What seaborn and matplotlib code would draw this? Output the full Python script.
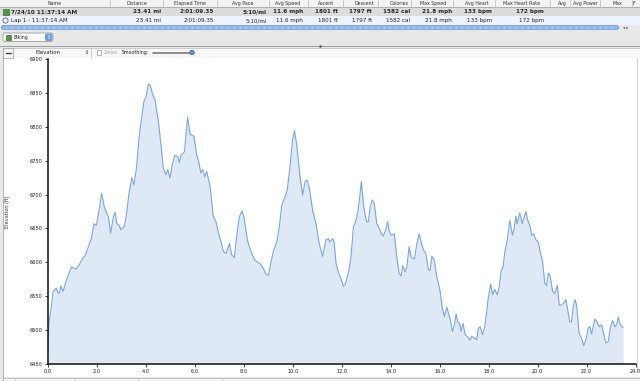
import numpy as np
import pandas as pd
import seaborn as sns
import matplotlib.pyplot as plt
from matplotlib.patches import Rectangle, FancyBboxPatch, Circle

# ====================
# Data
# ====================
distance_mi = [
    0.00, 0.05, 0.15, 0.22, 0.35, 0.42, 0.48, 0.53, 0.63, 0.76, 0.97, 1.17, 1.31, 1.44, 1.52,
    1.61, 1.78, 1.89, 1.99, 2.14, 2.20, 2.31, 2.41, 2.48, 2.57, 2.68, 2.75, 2.82, 2.91, 2.99,
    3.13, 3.22, 3.32, 3.43, 3.52, 3.63, 3.73, 3.84, 3.93, 4.01, 4.11, 4.19, 4.27, 4.38, 4.52,
    4.63, 4.72, 4.82, 4.90, 4.99, 5.09, 5.20, 5.31, 5.37, 5.44, 5.58, 5.71, 5.81, 5.97, 6.08,
    6.15, 6.25, 6.33, 6.41, 6.49, 6.63, 6.76, 6.87, 6.97, 7.06, 7.17, 7.28, 7.42, 7.51, 7.62,
    7.71, 7.82, 7.93, 8.01, 8.15, 8.23, 8.33, 8.46, 8.67, 8.80, 8.91, 9.01, 9.10, 9.21, 9.35,
    9.46, 9.55, 9.69, 9.78, 9.89, 9.99, 10.07, 10.16, 10.30, 10.41, 10.50, 10.60, 10.68, 10.82,
    10.95, 11.09, 11.22, 11.35, 11.46, 11.52, 11.63, 11.69, 11.77, 11.87, 11.97, 12.07, 12.14,
    12.21, 12.30, 12.38, 12.48, 12.57, 12.66, 12.72, 12.80, 12.87, 12.95, 13.02, 13.09, 13.16,
    13.25, 13.33, 13.43, 13.50, 13.61, 13.70, 13.80, 13.87, 13.93, 14.02, 14.15, 14.25, 14.34,
    14.42, 14.49, 14.59, 14.66, 14.75, 14.83, 14.97, 15.06, 15.16, 15.24, 15.34, 15.43, 15.54,
    15.61, 15.68, 15.78, 15.88, 16.01, 16.11, 16.19, 16.29, 16.36, 16.42, 16.52, 16.60, 16.67,
    16.74, 16.82, 16.87, 16.95, 17.04, 17.15, 17.24, 17.31, 17.42, 17.51, 17.58, 17.65, 17.75,
    17.84, 17.91, 17.98, 18.08, 18.16, 18.25, 18.35, 18.43, 18.50, 18.59, 18.66, 18.76, 18.86,
    18.97, 19.03, 19.11, 19.16, 19.27, 19.37, 19.45, 19.52, 19.59, 19.68, 19.75, 19.84, 19.93,
    20.02, 20.12, 20.20, 20.29, 20.36, 20.43, 20.50, 20.61, 20.70, 20.80, 20.88, 20.97, 21.07,
    21.15, 21.20, 21.31, 21.38, 21.45, 21.52, 21.59, 21.69, 21.79, 21.88, 21.97, 22.06, 22.13,
    22.20, 22.33, 22.43, 22.51, 22.61, 22.70, 22.78, 22.88, 22.97, 23.06, 23.15, 23.22, 23.29,
    23.35, 23.42, 23.49,
]
elevation_ft = [
    6470, 6510, 6535, 6557, 6562, 6555, 6554, 6565, 6557, 6574, 6593, 6590, 6598, 6607, 6609,
    6618, 6635, 6657, 6655, 6687, 6702, 6682, 6672, 6667, 6643, 6667, 6674, 6657, 6655, 6648,
    6653, 6672, 6702, 6725, 6714, 6741, 6785, 6815, 6838, 6844, 6863, 6861, 6849, 6840, 6807,
    6771, 6739, 6729, 6737, 6724, 6746, 6758, 6756, 6747, 6758, 6763, 6814, 6789, 6786, 6758,
    6751, 6732, 6737, 6726, 6734, 6712, 6667, 6660, 6643, 6633, 6616, 6613, 6628, 6611, 6607,
    6638, 6667, 6676, 6667, 6633, 6623, 6613, 6603, 6598, 6591, 6583, 6581, 6598, 6616, 6630,
    6653, 6684, 6697, 6707, 6741, 6780, 6794, 6775, 6726, 6699, 6719, 6721, 6709, 6675,
    6657, 6626, 6609, 6633, 6635, 6630, 6635, 6630, 6598, 6584, 6576, 6565, 6567,
    6576, 6589, 6608, 6653, 6660, 6675, 6692, 6719, 6692, 6670, 6660, 6660, 6682,
    6692, 6687, 6657, 6653, 6643, 6639, 6648, 6660, 6648, 6640, 6642, 6608, 6584,
    6580, 6595, 6586, 6593, 6623, 6608, 6605, 6626, 6642, 6630, 6618, 6614, 6589,
    6588, 6609, 6603, 6579, 6559, 6532, 6520, 6534, 6525, 6517, 6498, 6508, 6524,
    6512, 6509, 6498, 6510, 6493, 6490, 6485, 6491, 6488, 6486, 6503, 6505, 6493,
    6505, 6525, 6547, 6568, 6552, 6560, 6552, 6564, 6586, 6594, 6616, 6633, 6662,
    6640, 6648, 6668, 6657, 6673, 6657, 6667, 6675, 6662, 6655, 6640, 6642, 6633,
    6630, 6613, 6601, 6569, 6566, 6584, 6581, 6557, 6554, 6566, 6537, 6537, 6540,
    6545, 6535, 6512, 6512, 6535, 6545, 6537, 6495, 6488, 6477, 6486, 6503, 6505,
    6494, 6516, 6512, 6505, 6508, 6493, 6481, 6483, 6505, 6514, 6505, 6508, 6519,
    6510, 6506, 6504,
]

x_ticks = np.arange(0, 25, 2)
y_ticks = np.arange(6450, 6901, 50)

# table contents
column_names = ["Name", "Distance", "Elapsed Time", "Avg Pace", "Avg Speed", "Ascent",
                "Descent", "Calories", "Max Speed", "Avg Heart", "Max Heart Rate", "Avg",
                "Avg Power", "Max", "F"]
activity_row = ["23.41 mi", "2:01:09.35", "5:10/mi", "11.6 mph", "1801 ft", "1797 ft",
                "1582 cal", "21.8 mph", "133 bpm", "172 bpm"]
lap_row = activity_row
activity_name = "7/24/10 11:37:14 AM"
lap_name = "Lap 1 - 11:37:14 AM"

# layout (pixels)
col_edges = [0, 110, 163, 217, 269, 308, 343, 378, 411, 453, 495, 550, 570, 600, 632, 640]
header_x = [55, 137, 190, 243, 288, 326, 364, 399, 433, 477, 522, 562, 585, 617, 634]
value_right = [161, 214, 267, 303, 338, 372, 410, 452, 492, 544]

W, H = 640, 381
line_color = '#7ba7dc'
fill_color = '#dfe9f5'

sns.set_style("white")
plt.rcParams['font.family'] = ['DejaVu Sans']

fig = plt.figure(figsize=(W / 100, H / 100), dpi=100)

# ====================
# Window chrome, drawn in pixel coordinates
# ====================
ui = fig.add_axes([0, 0, 1, 1])
ui.set_xlim(0, W)
ui.set_ylim(H, 0)
ui.axis('off')

def rect(x, y, w, h, fc, ec='none', lw=0.6, z=1):
    ui.add_patch(Rectangle((x, y), w, h, facecolor=fc, edgecolor=ec, linewidth=lw, zorder=z))

rect(0, 0, W, H, '#e8e8e8', z=0)
# header row
rect(0, 0, W, 7, '#f3f3f3')
ui.plot([0, W], [7, 7], color='#a8a8a8', lw=0.6, zorder=2)
for e in col_edges[1:-1]:
    ui.plot([e, e], [0, 7], color='#c4c4c4', lw=0.6, zorder=2)
for name, x in zip(column_names, header_x):
    ui.text(x, 3.7, name, fontsize=3.4, ha='center', va='center', color='#333333', zorder=3)

# activity and lap rows
rect(0, 7, W, 9, '#dcdcdc')
rect(0, 16, W, 9, '#eef4fd')
rect(3, 9, 5.5, 5.5, '#4e9a3a', ec='#2c5e22', lw=0.4, z=3)
ui.text(11, 11.7, activity_name, fontsize=4.1, fontweight='bold', ha='left', va='center', zorder=3)
ui.add_patch(Circle((5.5, 20.5), 2.6, facecolor='none', edgecolor='#666666', lw=0.6, zorder=3))
ui.text(11, 20.7, lap_name, fontsize=4.1, ha='left', va='center', zorder=3)
for v1, v2, x in zip(activity_row, lap_row, value_right):
    ui.text(x, 11.7, v1, fontsize=4.1, fontweight='bold', ha='right', va='center', zorder=3)
    ui.text(x, 20.7, v2, fontsize=4.1, ha='right', va='center', zorder=3)

# blue scroller
ui.add_patch(FancyBboxPatch((1.5, 25.5), 617, 4, boxstyle='round,pad=0,rounding_size=2',
                            facecolor='#93b9ec', edgecolor='#5f8fd6', lw=0.5, zorder=2))
for xx in np.arange(6, 616, 6):
    ui.plot([xx, xx], [26, 29.5], color='#b5d0f4', lw=0.5, zorder=3)
ui.text(626, 27.8, '\u25C2 \u25B8', fontsize=3, ha='center', va='center', color='#444444', zorder=3)

# activity type popup
ui.add_patch(FancyBboxPatch((3, 33), 50, 8.5, boxstyle='round,pad=0,rounding_size=2',
                            facecolor='#fafafa', edgecolor='#8c8c8c', lw=0.5, zorder=2))
rect(6, 34.5, 5, 5, '#4e9a3a', ec='#2c5e22', lw=0.4, z=3)
ui.text(14, 37.5, 'Biking', fontsize=3.4, ha='left', va='center', zorder=3)
ui.add_patch(FancyBboxPatch((45, 33.5), 7.5, 7.5, boxstyle='round,pad=0,rounding_size=2',
                            facecolor='#6f9fe0', edgecolor='none', zorder=3))
ui.text(48.8, 37.3, '\u2195', fontsize=3.5, ha='center', va='center', color='white', zorder=4)

# splitter
ui.plot([0, W], [45.8, 45.8], color='#9a9a9a', lw=0.7, zorder=2)
ui.plot([320], [45.8], marker='o', ms=0.8, color='#555555', zorder=3)

# graph toolbar
rect(3, 47.5, W - 3, 10, '#f7f7f7', ec='#bdbdbd', lw=0.5)
rect(3, 47.5, 10, 10, '#f7f7f7', ec='#9a9a9a', lw=0.5, z=2)
ui.plot([5.5, 10.5], [52.5, 52.5], color='#333333', lw=0.9, zorder=3)
ui.text(48, 53, 'Elevation', fontsize=3.9, ha='center', va='center', zorder=3)
ui.text(87, 52.5, '\u2195', fontsize=3.5, ha='center', va='center', color='#333333', zorder=3)
ui.plot([91, 91], [47.5, 57.5], color='#bdbdbd', lw=0.5, zorder=3)
rect(96.5, 50, 4.5, 4.5, 'white', ec='#a0a0a0', lw=0.5, z=3)
ui.text(103.5, 52.5, 'Zones', fontsize=3.3, ha='left', va='center', color='#a6a6a6', zorder=3)
ui.text(122, 52.5, 'Smoothing:', fontsize=3.4, ha='left', va='center', color='#222222', zorder=3)
ui.plot([153, 190], [52.5, 52.5], color='#7c7c7c', lw=1.2, solid_capstyle='round', zorder=3)
ui.add_patch(Circle((192, 52.5), 2.3, facecolor='#5a8fd8', edgecolor='#2f5fa8', lw=0.4, zorder=4))

# chart panel
rect(3, 58, W - 3, 319, 'white')
ui.plot([3, 3], [47.5, H], color='#a8a8a8', lw=0.6, zorder=3)
ui.plot([637, 637], [58, 370], color='#cfcfcf', lw=0.6, zorder=3)
ui.plot([3, W], [377.5, 377.5], color='#b8b8b8', lw=0.6, zorder=3)
rect(3, 378, W, 3, '#f4f4f4')
for e in [15, 75, 138, 222]:
    ui.plot([e, e], [378, H], color='#c8c8c8', lw=0.5, zorder=3)

# ====================
# Elevation profile
# ====================
left, right = 47.7 / W, 635.7 / W
bottom, top = 1 - 364 / H, 1 - 59 / H
ax = fig.add_axes([left, bottom, right - left, top - bottom])
ax.set_facecolor('none')

profile = pd.DataFrame({'distance': distance_mi, 'elevation': elevation_ft})
ax.fill_between(profile['distance'], profile['elevation'], 6450, color=fill_color, linewidth=0)
sns.lineplot(data=profile, x='distance', y='elevation', ax=ax, color=line_color,
             linewidth=0.8, sort=False)

ax.set_xlim(0, 24)
ax.set_ylim(6450, 6900)
ax.set_xticks(x_ticks)
ax.set_xticklabels([f'{t:.1f}' for t in x_ticks])
ax.set_yticks(y_ticks)
ax.set_yticklabels([str(t) for t in y_ticks])
ax.set_xlabel('')
ax.set_ylabel('')
ax.tick_params(axis='both', direction='out', length=2, width=0.6, pad=1.5,
               labelsize=3.6, colors='#222222', left=True, bottom=True)
for side in ['top', 'right']:
    ax.spines[side].set_visible(False)
for side in ['left', 'bottom']:
    ax.spines[side].set_color('#111111')
    ax.spines[side].set_linewidth(1.1)

fig.text(7.5 / W, 1 - 212 / H, 'Elevation (ft)', rotation=90, fontsize=3.6,
         ha='center', va='center', color='#333333')

fig.savefig('out.png', dpi=100)
plt.close()
